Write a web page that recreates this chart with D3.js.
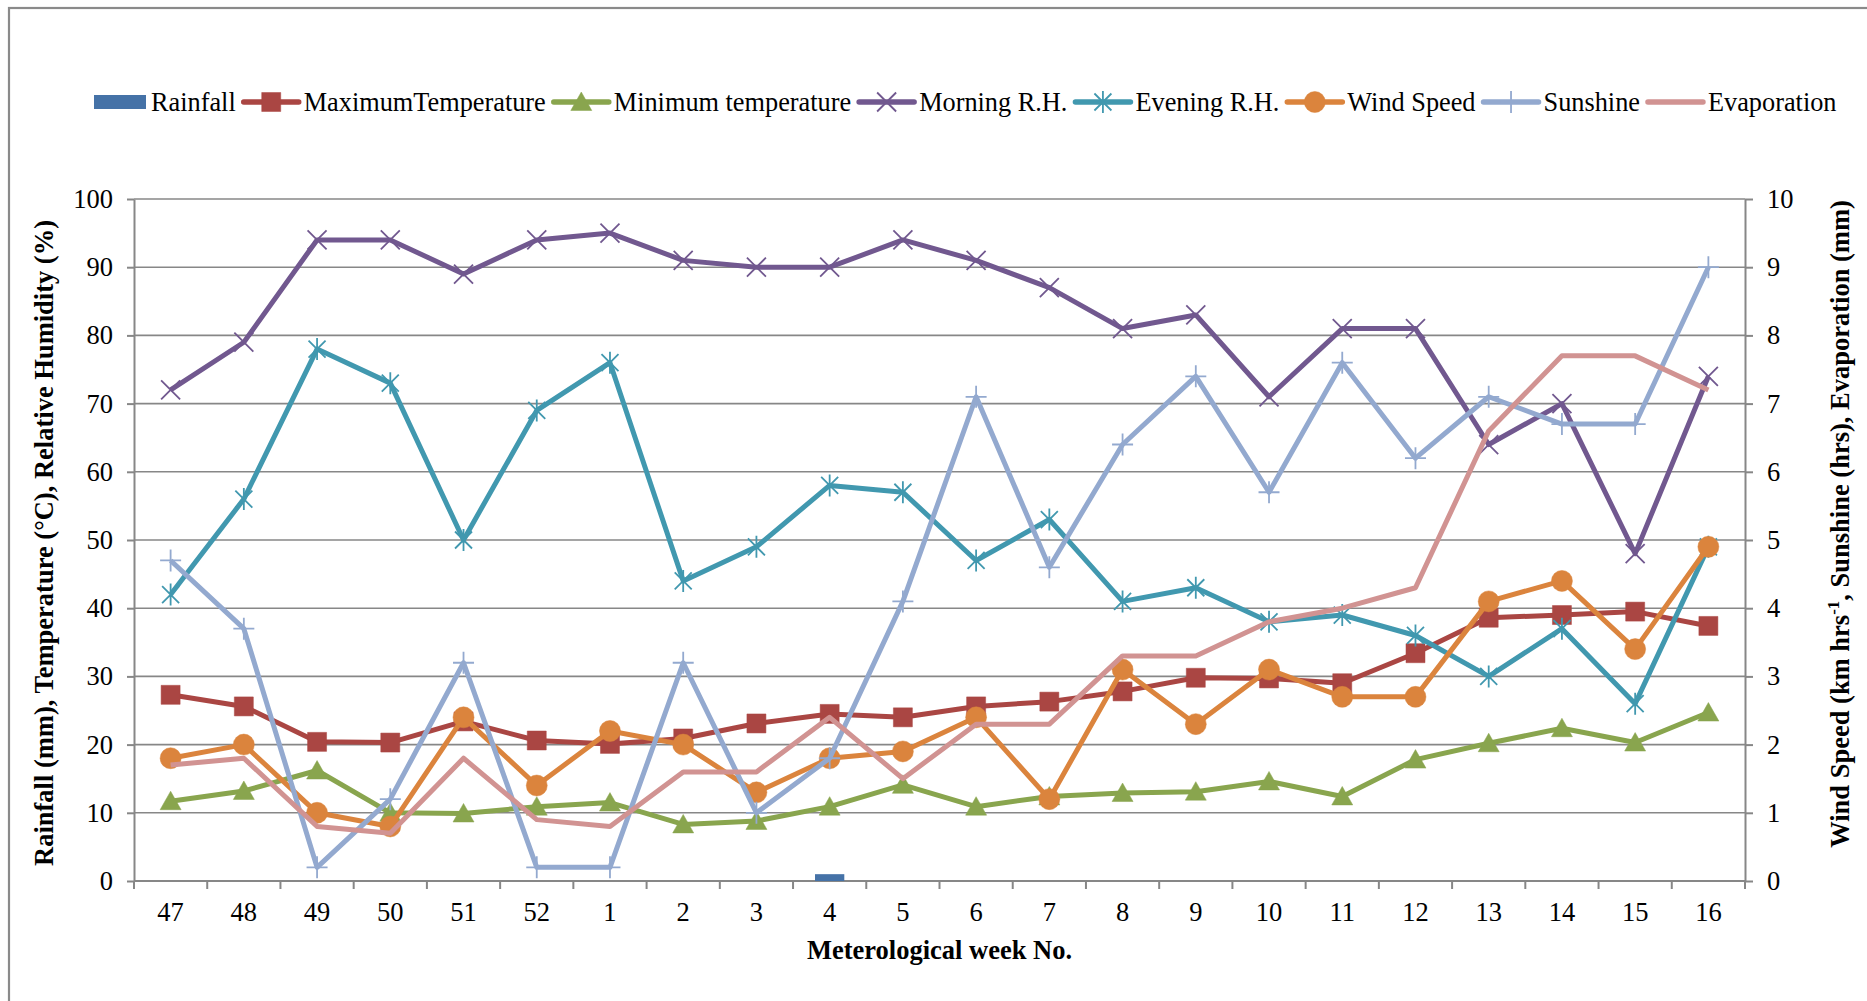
<!DOCTYPE html>
<html>
<head>
<meta charset="utf-8">
<script src="https://cdn.jsdelivr.net/npm/d3@7"></script>
<style>
  html, body { margin: 0; padding: 0; background: #fff; }
  svg { display: block; }
  svg text { font-family: "Liberation Serif", "Times New Roman", serif; }
</style>
</head>
<body>
<svg id="chart" width="1867" height="1001"></svg>
<script>
// Meteorological weeks (47–52, then 1–16)
const weeks = ["47","48","49","50","51","52","1","2","3","4","5","6","7","8","9","10","11","12","13","14","15","16"];

// Primary axis series: rainfall (mm), temperature (°C), relative humidity (%)
const rainfall    = [0, 0, 0, 0, 0, 0, 0, 0, 0, 1.0, 0, 0, 0, 0, 0, 0, 0, 0, 0, 0, 0, 0];
const maxTemp     = [27.3, 25.6, 20.4, 20.3, 23.4, 20.6, 20.1, 20.9, 23.1, 24.5, 24.0, 25.6, 26.3, 27.8, 29.8, 29.7, 29.0, 33.4, 38.6, 39.0, 39.5, 37.4];
const minTemp     = [11.7, 13.2, 16.2, 10.0, 9.9, 10.9, 11.5, 8.3, 8.8, 10.9, 14.1, 10.9, 12.4, 12.9, 13.1, 14.6, 12.4, 17.8, 20.2, 22.4, 20.3, 24.7];
const morningRH   = [72, 79, 94, 94, 89, 94, 95, 91, 90, 90, 94, 91, 87, 81, 83, 71, 81, 81, 64, 70, 48, 74];
const eveningRH   = [42, 56, 78, 73, 50, 69, 76, 44, 49, 58, 57, 47, 53, 41, 43, 38, 39, 36, 30, 37, 26, 49];

// Secondary axis series: wind speed (km/hr), sunshine (hrs), evaporation (mm)
const windSpeed   = [1.8, 2.0, 1.0, 0.8, 2.4, 1.4, 2.2, 2.0, 1.3, 1.8, 1.9, 2.4, 1.2, 3.1, 2.3, 3.1, 2.7, 2.7, 4.1, 4.4, 3.4, 4.9];
const sunshine    = [4.7, 3.7, 0.2, 1.2, 3.2, 0.2, 0.2, 3.2, 1.0, 1.8, 4.1, 7.1, 4.6, 6.4, 7.4, 5.7, 7.6, 6.2, 7.1, 6.7, 6.7, 9.0];
const evaporation = [1.7, 1.8, 0.8, 0.7, 1.8, 0.9, 0.8, 1.6, 1.6, 2.4, 1.5, 2.3, 2.3, 3.3, 3.3, 3.8, 4.0, 4.3, 6.6, 7.7, 7.7, 7.2];

const leftTicks  = [0, 10, 20, 30, 40, 50, 60, 70, 80, 90, 100];
const rightTicks = [0, 1, 2, 3, 4, 5, 6, 7, 8, 9, 10];

const seriesNames = ["Rainfall", "MaximumTemperature", "Minimum temperature", "Morning R.H.",
                     "Evening R.H.", "Wind Speed", "Sunshine", "Evaporation"];

const W = 1867, H = 1001;
const FONT = "'Liberation Serif','Times New Roman',serif";
const FS = 26.5;
const LEGEND_FS = 26.3;
const GRID = "#878787";
const plot = { left: 134, right: 1745, top: 199, bottom: 881 };

const svg = d3.select("#chart");
svg.append("rect").attr("width", W).attr("height", H).attr("fill", "#fff");
// outer chart frame
svg.append("rect").attr("x", 9).attr("y", 8).attr("width", W + 40).attr("height", H + 40)
  .attr("fill", "none").attr("stroke", "#8a8a8a").attr("stroke-width", 2.2);

const x  = d3.scaleBand().domain(weeks).range([plot.left, plot.right]);
const yL = d3.scaleLinear().domain([0, 100]).range([plot.bottom, plot.top]);
const yR = d3.scaleLinear().domain([0, 10]).range([plot.bottom, plot.top]);
const cx = w => x(w) + x.bandwidth() / 2;

// horizontal gridlines
svg.append("g").selectAll("line").data(leftTicks.filter(t => t > 0)).join("line")
  .attr("x1", plot.left).attr("x2", plot.right)
  .attr("y1", d => yL(d)).attr("y2", d => yL(d))
  .attr("stroke", GRID).attr("stroke-width", 1.6);

function styleAxis(g) {
  g.attr("font-family", FONT).attr("font-size", FS);
  g.select(".domain").attr("stroke", GRID).attr("stroke-width", 2);
  g.selectAll(".tick line").attr("stroke", GRID).attr("stroke-width", 2);
  g.selectAll(".tick text").attr("fill", "#000");
}

// left axis
svg.append("g").attr("transform", `translate(${plot.left},0)`)
  .call(d3.axisLeft(yL).tickValues(leftTicks).tickSize(7).tickSizeOuter(0).tickPadding(14))
  .call(styleAxis);

// right axis
svg.append("g").attr("transform", `translate(${plot.right},0)`)
  .call(d3.axisRight(yR).tickValues(rightTicks).tickSize(8).tickSizeOuter(0).tickPadding(14))
  .call(styleAxis);

// category axis: labels centred in each band, tick marks on band boundaries
const xAxis = svg.append("g").attr("transform", `translate(0,${plot.bottom})`)
  .call(d3.axisBottom(x).tickSize(0).tickPadding(21))
  .call(styleAxis);
xAxis.select(".domain").remove();
xAxis.append("line").attr("x1", plot.left).attr("x2", plot.right)
  .attr("stroke", GRID).attr("stroke-width", 2);
xAxis.selectAll("line.bound").data(weeks.map(w => x(w)).concat([plot.right])).join("line")
  .attr("class", "bound")
  .attr("x1", d => d).attr("x2", d => d).attr("y1", 0).attr("y2", 8)
  .attr("stroke", GRID).attr("stroke-width", 2);

// markers
const markers = {
  square:   { d: "M-9.5,-9.5H9.5V9.5H-9.5Z", fill: true },
  triangle: { d: "M0,-10L10.5,8.5L-10.5,8.5Z", fill: true },
  cross:    { d: "M-9.5,-9.5L9.5,9.5M-9.5,9.5L9.5,-9.5", fill: false },
  star:     { d: "M-8.5,-8.5L8.5,8.5M-8.5,8.5L8.5,-8.5M0,-11V11", fill: false },
  circle:   { d: "M-10.5,0A10.5,10.5 0 1,0 10.5,0A10.5,10.5 0 1,0 -10.5,0Z", fill: true },
  plus:     { d: "M-10.5,0H10.5M0,-11V11", fill: false },
  none:     null
};

const series = [
  { name: seriesNames[1], values: maxTemp,     y: yL, color: "#AA4643", marker: "square" },
  { name: seriesNames[2], values: minTemp,     y: yL, color: "#89A54E", marker: "triangle" },
  { name: seriesNames[3], values: morningRH,   y: yL, color: "#71588F", marker: "cross" },
  { name: seriesNames[4], values: eveningRH,   y: yL, color: "#4198AF", marker: "star" },
  { name: seriesNames[5], values: windSpeed,   y: yR, color: "#DB843D", marker: "circle" },
  { name: seriesNames[6], values: sunshine,    y: yR, color: "#93A9CF", marker: "plus" },
  { name: seriesNames[7], values: evaporation, y: yR, color: "#D19392", marker: "none" }
];
const RAIN_COLOR = "#4572A7";

function drawMarker(g, type, color) {
  const m = markers[type];
  if (!m) return;
  g.append("path").attr("d", m.d)
    .attr("fill", m.fill ? color : "none")
    .attr("stroke", color)
    .attr("stroke-width", m.fill ? 0.5 : 1.8);
}

// rainfall columns
const bw = x.bandwidth() * 0.4;
svg.append("g").selectAll("rect").data(rainfall.map((v, i) => ({ w: weeks[i], v })).filter(d => d.v > 0))
  .join("rect")
  .attr("x", d => cx(d.w) - bw / 2).attr("width", bw)
  .attr("y", d => yL(d.v)).attr("height", d => yL(0) - yL(d.v))
  .attr("fill", RAIN_COLOR);

// line series
series.forEach(s => {
  const pts = s.values.map((v, i) => [cx(weeks[i]), s.y(v)]);
  const g = svg.append("g");
  g.append("path").attr("d", d3.line()(pts))
    .attr("fill", "none").attr("stroke", s.color).attr("stroke-width", 5)
    .attr("stroke-linejoin", "round");
  pts.forEach(p => {
    const mg = g.append("g").attr("transform", `translate(${p[0]},${p[1]})`);
    drawMarker(mg, s.marker, s.color);
  });
});

// legend
const legend = svg.append("g").attr("font-family", FONT).attr("font-size", LEGEND_FS);
const LY = 102;
let lx = 94;
// rainfall swatch
legend.append("rect").attr("x", lx).attr("y", LY - 7).attr("width", 52).attr("height", 14).attr("fill", RAIN_COLOR);
lx += 52 + 5;
let t = legend.append("text").attr("x", lx).attr("y", LY).attr("dy", "0.35em").text(seriesNames[0]);
lx += t.node().getComputedTextLength() + 8;
series.forEach(s => {
  legend.append("line").attr("x1", lx).attr("x2", lx + 55).attr("y1", LY).attr("y2", LY)
    .attr("stroke", s.color).attr("stroke-width", 5.5).attr("stroke-linecap", "round");
  drawMarker(legend.append("g").attr("transform", `translate(${lx + 27.5},${LY})`), s.marker, s.color);
  lx += 55 + 5;
  const tt = legend.append("text").attr("x", lx).attr("y", LY).attr("dy", "0.35em").text(s.name);
  lx += tt.node().getComputedTextLength() + 8;
});

// axis titles
svg.append("text").attr("x", (plot.left + plot.right) / 2).attr("y", 950).attr("dy", "0.35em")
  .attr("text-anchor", "middle").attr("font-family", FONT).attr("font-size", FS).attr("font-weight", "bold")
  .text("Meterological week No.");

svg.append("text").attr("transform", "translate(44,543) rotate(-90)").attr("dy", "0.35em")
  .attr("text-anchor", "middle").attr("font-family", FONT).attr("font-size", FS).attr("font-weight", "bold")
  .text("Rainfall (mm), Temperature (\u00B0C), Relative Humidity (%)");

const rt = svg.append("text").attr("transform", "translate(1840,524) rotate(-90)").attr("dy", "0.35em")
  .attr("text-anchor", "middle").attr("font-family", FONT).attr("font-size", FS).attr("font-weight", "bold");
rt.append("tspan").text("Wind Speed (km hrs");
rt.append("tspan").attr("dy", -10).attr("font-size", 17).text("-1");
rt.append("tspan").attr("dy", 10).text(", Sunshine (hrs), Evaporation (mm)");
</script>
</body>
</html>
